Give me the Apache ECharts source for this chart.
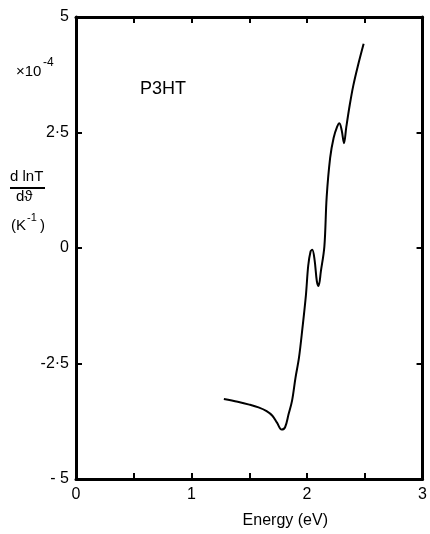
<!DOCTYPE html>
<html>
<head>
<meta charset="utf-8">
<script src="https://cdn.jsdelivr.net/npm/echarts@6/dist/echarts.min.js"></script>
<style>
  html, body { margin: 0; padding: 0; background: #fff; }
  #chart { width: 430px; height: 534px; }
</style>
</head>
<body>
<div id="chart"></div>
<script>
// Photon energy (eV)
const energy = [1.28, 1.40, 1.50, 1.58, 1.65, 1.70, 1.74, 1.78, 1.81, 1.84, 1.87, 1.90, 1.93, 1.96, 1.99, 2.01, 2.03, 2.045, 2.065, 2.085, 2.10, 2.12, 2.15, 2.17, 2.20, 2.23, 2.26, 2.28, 2.30, 2.32, 2.34, 2.37, 2.40, 2.44, 2.49];
// d lnT / dθ in units of 1e-4 K^-1
const dlnT = [-3.27, -3.33, -3.39, -3.45, -3.53, -3.63, -3.78, -3.93, -3.88, -3.60, -3.31, -2.81, -2.38, -1.74, -1.03, -0.39, -0.08, -0.04, -0.25, -0.72, -0.82, -0.50, 0.03, 1.10, 1.95, 2.38, 2.62, 2.70, 2.55, 2.27, 2.62, 3.10, 3.51, 3.94, 4.42];
// Axis tick labels
const yTickLabels = { '5': '5', '2.5': '2·5', '0': '0', '-2.5': '-2·5', '-5': '- 5' };
const xTickLabels = { '0': '0', '1': '1', '2': '2', '3': '3' };

const FONT = '"Liberation Sans", "DejaVu Sans", sans-serif';
const INK = '#000';

const chart = echarts.init(document.getElementById('chart'), null, { renderer: 'canvas' });

const axisLine = { show: true, onZero: false, lineStyle: { color: INK, width: 3 } };
const axisTick = { show: true, inside: true, length: 6, lineStyle: { color: INK, width: 2 } };

chart.setOption({
  animation: false,
  backgroundColor: '#fff',
  grid: { left: 76, right: 5, top: 17, bottom: 48, containLabel: false },
  xAxis: [
    {
      type: 'value', min: 0, max: 3, interval: 0.5, position: 'bottom',
      axisLine, axisTick, splitLine: { show: false },
      axisLabel: {
        color: INK, fontFamily: FONT, fontSize: 16, margin: 8,
        formatter: v => xTickLabels[String(v)] ?? ''
      },
      name: 'Energy (eV)', nameLocation: 'middle', nameGap: 34,
      nameTextStyle: { color: INK, fontFamily: FONT, fontSize: 16, padding: [0, 0, 0, 72] }
    },
    {
      type: 'value', min: 0, max: 3, interval: 0.5, position: 'top',
      axisLine, axisTick, splitLine: { show: false }, axisLabel: { show: false }
    }
  ],
  yAxis: [
    {
      type: 'value', min: -5, max: 5, interval: 2.5, position: 'left',
      axisLine, axisTick, splitLine: { show: false },
      axisLabel: {
        color: INK, fontFamily: FONT, fontSize: 16, margin: 7,
        formatter: v => yTickLabels[String(v)] ?? ''
      }
    },
    {
      type: 'value', min: -5, max: 5, interval: 2.5, position: 'right',
      axisLine, axisTick, splitLine: { show: false }, axisLabel: { show: false }
    }
  ],
  series: [{
    type: 'line',
    data: energy.map((e, i) => [e, dlnT[i]]),
    smooth: 0.35,
    showSymbol: false,
    lineStyle: { color: INK, width: 2 }
  }],
  graphic: [
    { type: 'text', left: 16, top: 64,
      style: { text: '×10', fill: INK, font: '15px ' + FONT } },
    { type: 'text', left: 43, top: 57,
      style: { text: '-4', fill: INK, font: '12px ' + FONT } },
    { type: 'text', left: 140, top: 80,
      style: { text: 'P3HT', fill: INK, font: '18px ' + FONT } },
    { type: 'text', left: 10, top: 169,
      style: { text: 'd lnT', fill: INK, font: '15px ' + FONT } },
    { type: 'line', shape: { x1: 10, y1: 188, x2: 45, y2: 188 },
      style: { stroke: INK, lineWidth: 2 } },
    { type: 'text', left: 16, top: 189,
      style: { text: 'dϑ', fill: INK, font: '15px ' + FONT } },
    { type: 'text', left: 11, top: 218,
      style: { text: '(K', fill: INK, font: '15px ' + FONT } },
    { type: 'text', left: 27, top: 212,
      style: { text: '-1', fill: INK, font: '11px ' + FONT } },
    { type: 'text', left: 40, top: 218,
      style: { text: ')', fill: INK, font: '15px ' + FONT } }
  ]
});
</script>
</body>
</html>
